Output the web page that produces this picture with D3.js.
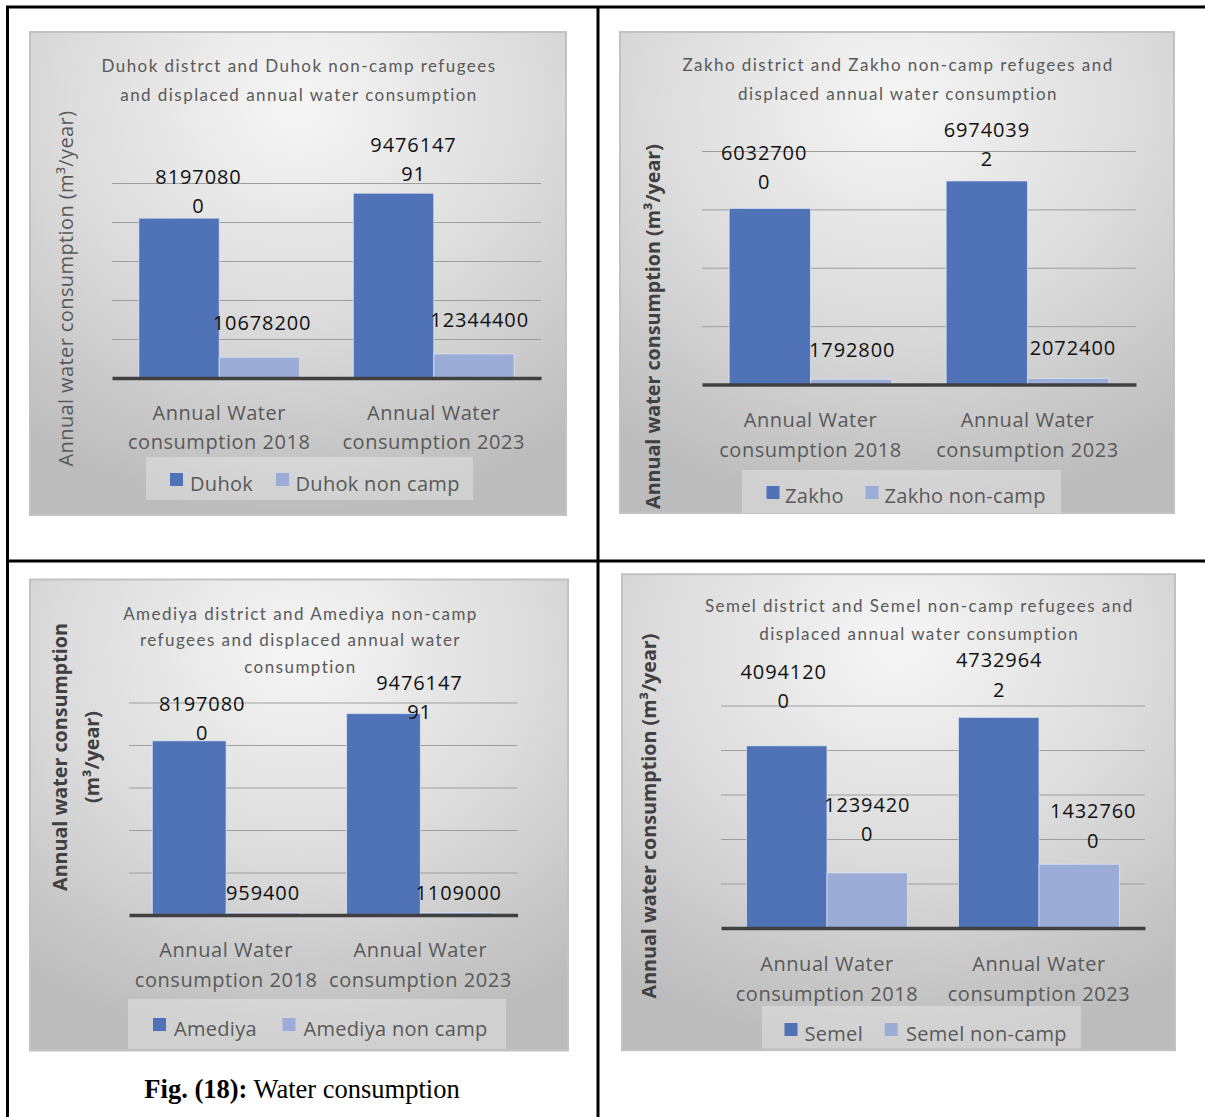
<!DOCTYPE html>
<html>
<head>
<meta charset="utf-8">
<script src="https://cdn.jsdelivr.net/npm/d3@7"></script>
<style>
  html, body { margin: 0; padding: 0; background: #fff; }
  svg { display: block; }
</style>
</head>
<body>
<svg id="fig" width="1205" height="1117"></svg>
<script>
// ---------------- data ----------------
const categories = ["Annual Water consumption 2018", "Annual Water consumption 2023"];
const categoryLines = [["Annual Water", "consumption 2018"], ["Annual Water", "consumption 2023"]];

const duhokSeries = ["Duhok", "Duhok non camp"];
const duhokDistrict = [81970800, 94761479.1];
const duhokNonCamp = [10678200, 12344400];

const zakhoSeries = ["Zakho", "Zakho non-camp"];
const zakhoDistrict = [60327000, 69740392];
const zakhoNonCamp = [1792800, 2072400];

const amediyaSeries = ["Amediya", "Amediya non camp"];
const amediyaDistrict = [81970800, 94761479.1];
const amediyaNonCamp = [959400, 1109000];

const semelSeries = ["Semel", "Semel non-camp"];
const semelDistrict = [40941200, 47329642];
const semelNonCamp = [12394200, 14327600];

const duhokTitle = ["Duhok distrct and Duhok non-camp refugees", "and displaced annual water consumption"];
const zakhoTitle = ["Zakho district and Zakho non-camp refugees and", "displaced annual water consumption"];
const amediyaTitle = ["Amediya district and Amediya non-camp", "refugees and displaced annual water", "consumption"];
const semelTitle = ["Semel district and Semel non-camp refugees and", "displaced annual water consumption"];

const yTitleOneLine = ["Annual water consumption (m³/year)"];
const yTitleTwoLines = ["Annual water consumption", "(m³/year)"];

const caption = { bold: "Fig. (18):", rest: " Water consumption" };

// ---------------- styling ----------------
const seriesColors = ["#4f73b6", "#9badd7"];
const textGray = "#595959";

// Data labels print the figure's digits without a decimal separator,
// wrapped after a fixed number of characters.
const labelText = v => String(v).replace(".", "");
function wrapChars(s, n) {
  const out = [];
  for (let i = 0; i < s.length; i += n) out.push(s.slice(i, i + n));
  return out;
}

// ---------------- panel layout ----------------
const panels = [
  {
    id: "duhok", series: duhokSeries, values: [duhokDistrict, duhokNonCamp],
    title: duhokTitle, titleX: 299, titleY: 72, titleStep: 28.5,
    yTitle: yTitleOneLine, yTitleBold: false, yTitleX: [67], yTitleY: 288.5,
    box: [30, 32, 536, 483],
    plot: { left: 112, right: 541, top: 183, bottom: 378 },
    domain: [0, 100e6], tickCount: 5, pad: 0.25,
    wrap: [7, 8],
    labelShift: [[[19.5, 12], [20, 19]], [[2.6, 34], [5.7, 34]]],
    catY: 412.5,
    legend: { box: [146, 457, 327, 43], marker: [170, 276], markerY: 473, text: [190, 295.5], textY: 483 }
  },
  {
    id: "zakho", series: zakhoSeries, values: [zakhoDistrict, zakhoNonCamp],
    title: zakhoTitle, titleX: 898, titleY: 71.4, titleStep: 28.2,
    yTitle: yTitleOneLine, yTitleBold: true, yTitleX: [654], yTitleY: 326.5,
    box: [620, 32, 554, 481],
    plot: { left: 702, right: 1136, top: 151, bottom: 384.5 },
    domain: [0, 80e6], tickCount: 4, pad: 0.25,
    wrap: [7, 7],
    labelShift: [[[-5.7, 26], [0, 22]], [[1, 29], [4.7, 30.5]]],
    catY: 420,
    legend: { box: [742, 470, 319, 43], marker: [766.5, 865.5], markerY: 486, text: [785, 884.5], textY: 495.7 }
  },
  {
    id: "amediya", series: amediyaSeries, values: [amediyaDistrict, amediyaNonCamp],
    title: amediyaTitle, titleX: 300.5, titleY: 620, titleStep: 26.3,
    yTitle: yTitleTwoLines, yTitleBold: true, yTitleX: [61, 93], yTitleY: 757,
    box: [30, 579.5, 538, 471],
    plot: { left: 129, right: 517.5, top: 702.5, bottom: 915 },
    domain: [0, 100e6], tickCount: 5, pad: 0.24,
    wrap: [7, 7],
    labelShift: [[[13, 8], [36, 1.6]], [[0, 20], [1.4, 19.6]]],
    catY: 950,
    legend: { box: [128, 999, 378, 50], marker: [153, 282.5], markerY: 1018, text: [174, 303.5], textY: 1028 }
  },
  {
    id: "semel", series: semelSeries, values: [semelDistrict, semelNonCamp],
    title: semelTitle, titleX: 919.3, titleY: 611.5, titleStep: 28,
    yTitle: yTitleOneLine, yTitleBold: true, yTitleX: [650], yTitleY: 816,
    box: [622, 574.2, 553, 476],
    plot: { left: 721, right: 1145, top: 705.5, bottom: 928 },
    domain: [0, 50e6], tickCount: 5, pad: 0.24,
    wrap: [7, 7],
    labelShift: [[[-3, 45], [0.5, 27.7]], [[0, 39], [14, 23.6]]],
    catY: 964,
    legend: { box: [762, 1006, 319, 42.5], marker: [784.5, 884.7], markerY: 1023, text: [804.5, 906], textY: 1033 }
  }
];

// ---------------- drawing ----------------
const svg = d3.select("#fig");
svg.append("rect").attr("width", 1205).attr("height", 1117).attr("fill", "#fff");

const defs = svg.append("defs");
const grad = defs.append("radialGradient").attr("id", "chartBg")
  .attr("cx", "50%").attr("cy", "15%").attr("r", "85%").attr("fx", "50%").attr("fy", "15%");
grad.append("stop").attr("offset", "0%").attr("stop-color", "#f6f6f6");
grad.append("stop").attr("offset", "55%").attr("stop-color", "#dadada");
grad.append("stop").attr("offset", "100%").attr("stop-color", "#bcbcbc");

// table grid lines
const table = svg.append("g").attr("stroke", "#000").attr("stroke-width", 3);
table.append("line").attr("x1", 6).attr("x2", 1205).attr("y1", 7).attr("y2", 7);
table.append("line").attr("x1", 6).attr("x2", 1205).attr("y1", 561).attr("y2", 561);
table.append("line").attr("x1", 7.5).attr("x2", 7.5).attr("y1", 6).attr("y2", 1117);
table.append("line").attr("x1", 598).attr("x2", 598).attr("y1", 6).attr("y2", 1117);

panels.forEach(p => {
  const g = svg.append("g").attr("class", "panel " + p.id);
  const [bx, by, bw, bh] = p.box;

  g.append("rect").attr("x", bx).attr("y", by).attr("width", bw).attr("height", bh)
    .attr("fill", "url(#chartBg)").attr("stroke", "#c2c2c2").attr("stroke-width", 2);

  // title
  g.append("text")
    .attr("text-anchor", "middle")
    .attr("font-family", "Lato, sans-serif").attr("font-size", 17)
    .attr("letter-spacing", 1.45).attr("fill", textGray)
    .selectAll("tspan").data(p.title).join("tspan")
    .attr("x", p.titleX).attr("y", (d, i) => p.titleY + i * p.titleStep)
    .text(d => d);

  // value-axis title
  p.yTitle.forEach((line, i) => {
    g.append("text")
      .attr("transform", `translate(${p.yTitleX[i]},${p.yTitleY}) rotate(-90)`)
      .attr("dy", "0.3em").attr("text-anchor", "middle")
      .attr("font-family", "'Open Sans', sans-serif")
      .attr("font-size", p.yTitleBold ? 19.7 : 20)
      .attr("font-weight", p.yTitleBold ? 700 : 400)
      .attr("letter-spacing", p.yTitleBold ? 0 : 0.4)
      .attr("fill", p.yTitleBold ? "#404040" : textGray)
      .text(line);
  });

  // scales
  const x0 = d3.scaleBand().domain(categories).range([p.plot.left, p.plot.right])
    .paddingInner(p.pad).paddingOuter(p.pad / 2);
  const x1 = d3.scaleBand().domain(p.series).range([0, x0.bandwidth()]);
  const y = d3.scaleLinear().domain(p.domain).range([p.plot.bottom, p.plot.top]);

  // gridlines
  const gridTicks = y.ticks(p.tickCount).filter(t => t > 0);
  const grid = g.append("g").attr("transform", `translate(${p.plot.left},0)`)
    .call(d3.axisLeft(y).tickValues(gridTicks).tickSize(-(p.plot.right - p.plot.left)).tickFormat(""));
  grid.select(".domain").remove();
  grid.selectAll(".tick line").attr("stroke", "#9e9e9e").attr("stroke-width", 1);

  // bars
  const barData = [];
  p.series.forEach((s, si) => {
    categories.forEach((c, ci) => {
      barData.push({ s, si, c, ci, v: p.values[si][ci] });
    });
  });
  g.append("g").selectAll("rect").data(barData).join("rect")
    .attr("x", d => x0(d.c) + x1(d.s))
    .attr("y", d => y(d.v))
    .attr("width", x1.bandwidth())
    .attr("height", d => y(0) - y(d.v))
    .attr("fill", d => seriesColors[d.si])
    .attr("stroke", "#e4e9f4").attr("stroke-opacity", 0.7).attr("stroke-width", 1);

  // category axis (baseline)
  const xAxis = g.append("g").attr("transform", `translate(0,${p.plot.bottom})`)
    .call(d3.axisBottom(x0).tickSize(0).tickSizeOuter(0).tickFormat(""));
  xAxis.select(".domain").attr("stroke", "#404040").attr("stroke-width", 3.5);

  categories.forEach((c, ci) => {
    g.append("text")
      .attr("text-anchor", "middle")
      .attr("font-family", "'Open Sans', sans-serif").attr("font-size", 20)
      .attr("letter-spacing", 0.55).attr("fill", textGray)
      .selectAll("tspan").data(categoryLines[ci]).join("tspan")
      .attr("x", x0(c) + x0.bandwidth() / 2)
      .attr("y", (d, i) => p.catY + 7 + i * 29.5)
      .text(d => d);
  });

  // data labels
  barData.forEach(d => {
    const [dx, gap] = p.labelShift[d.si][d.ci];
    const lines = wrapChars(labelText(d.v), p.wrap[d.si]);
    const cx = x0(d.c) + x1(d.s) + x1.bandwidth() / 2 + dx;
    const lastCenter = y(d.v) - gap;
    g.append("text")
      .attr("text-anchor", "middle")
      .attr("font-family", "'Open Sans', sans-serif").attr("font-size", 20)
      .attr("letter-spacing", 0.9).attr("fill", "#111")
      .selectAll("tspan").data(lines).join("tspan")
      .attr("x", cx)
      .attr("y", (t, i) => lastCenter + 7 - (lines.length - 1 - i) * 29.3)
      .text(t => t);
  });

  // legend
  const L = p.legend;
  g.append("rect").attr("x", L.box[0]).attr("y", L.box[1]).attr("width", L.box[2]).attr("height", L.box[3])
    .attr("fill", "#ffffff").attr("fill-opacity", 0.3);
  p.series.forEach((s, si) => {
    g.append("rect").attr("x", L.marker[si]).attr("y", L.markerY).attr("width", 13).attr("height", 13)
      .attr("fill", seriesColors[si]);
    g.append("text").attr("x", L.text[si]).attr("y", L.textY + 7.5)
      .attr("font-family", "'Open Sans', sans-serif").attr("font-size", 20)
      .attr("letter-spacing", 0.3).attr("fill", textGray)
      .text(s);
  });
});

// figure caption
const cap = svg.append("text").attr("x", 302).attr("y", 1098).attr("text-anchor", "middle")
  .attr("font-family", "'Liberation Serif', 'Times New Roman', serif").attr("font-size", 26.5).attr("fill", "#000");
cap.append("tspan").attr("font-weight", 700).text(caption.bold);
cap.append("tspan").text(caption.rest);
</script>
</body>
</html>
